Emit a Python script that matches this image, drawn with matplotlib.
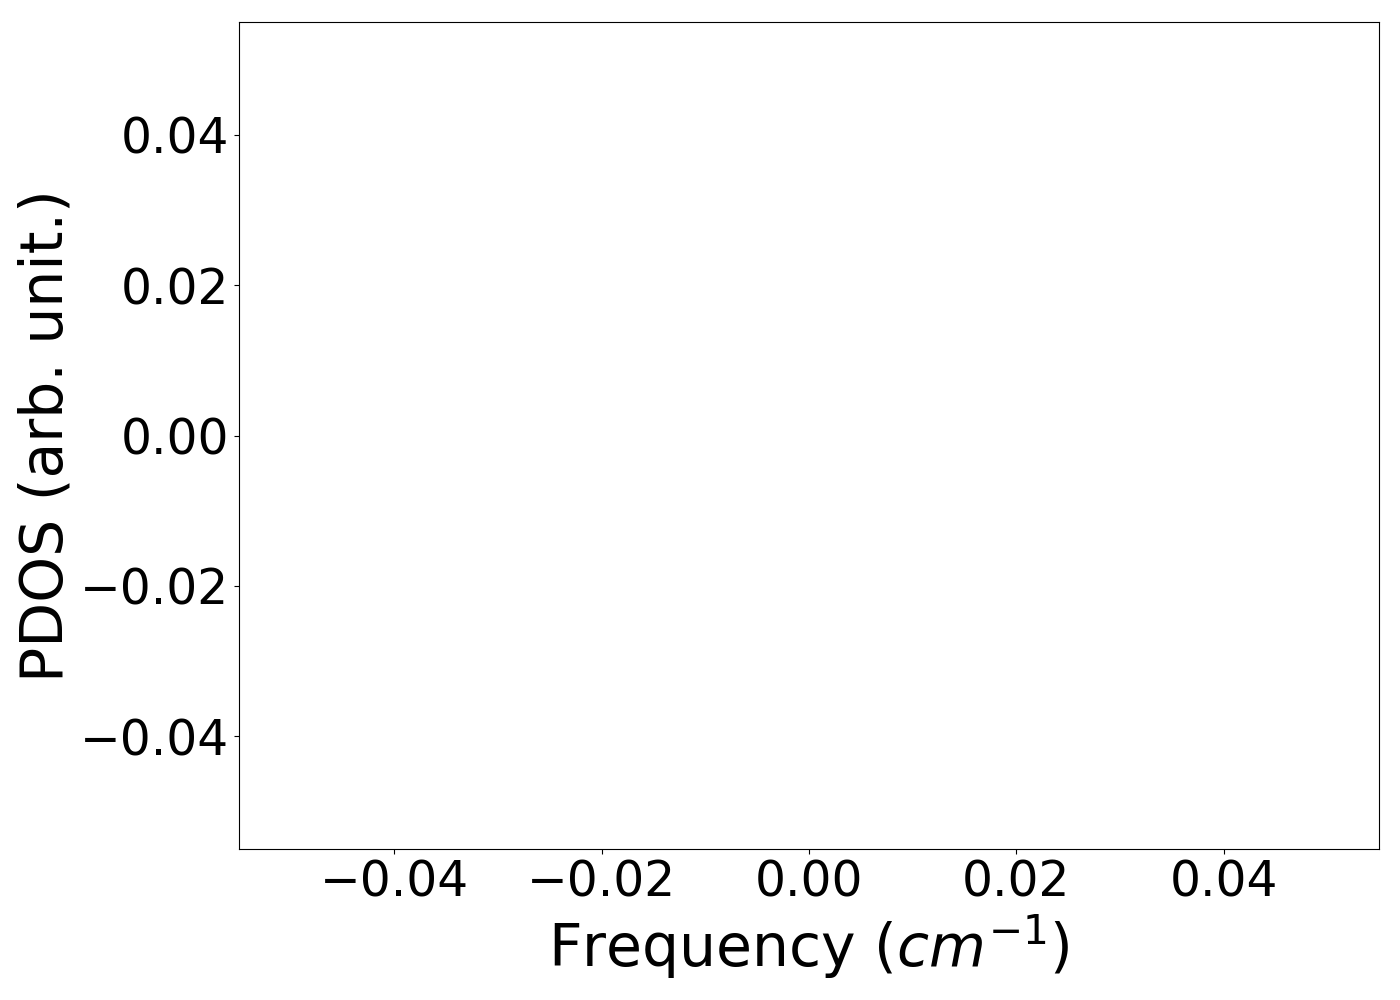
import matplotlib
matplotlib.use('Agg')
import matplotlib.pyplot as plt

# PDOS data (empty in the reference)
frequency = []
pdos = []

fig, ax = plt.subplots(figsize=(14, 10), dpi=100)
ax.plot(frequency, pdos)

ax.set_xlabel(r'Frequency ($cm^{-1}$)', fontsize=42)
ax.set_ylabel('PDOS (arb. unit.)', fontsize=42)
ax.tick_params(axis='both', labelsize=35)

fig.subplots_adjust(left=0.1707, right=0.985, top=0.978, bottom=0.151)
plt.savefig('out.png', dpi=100)
